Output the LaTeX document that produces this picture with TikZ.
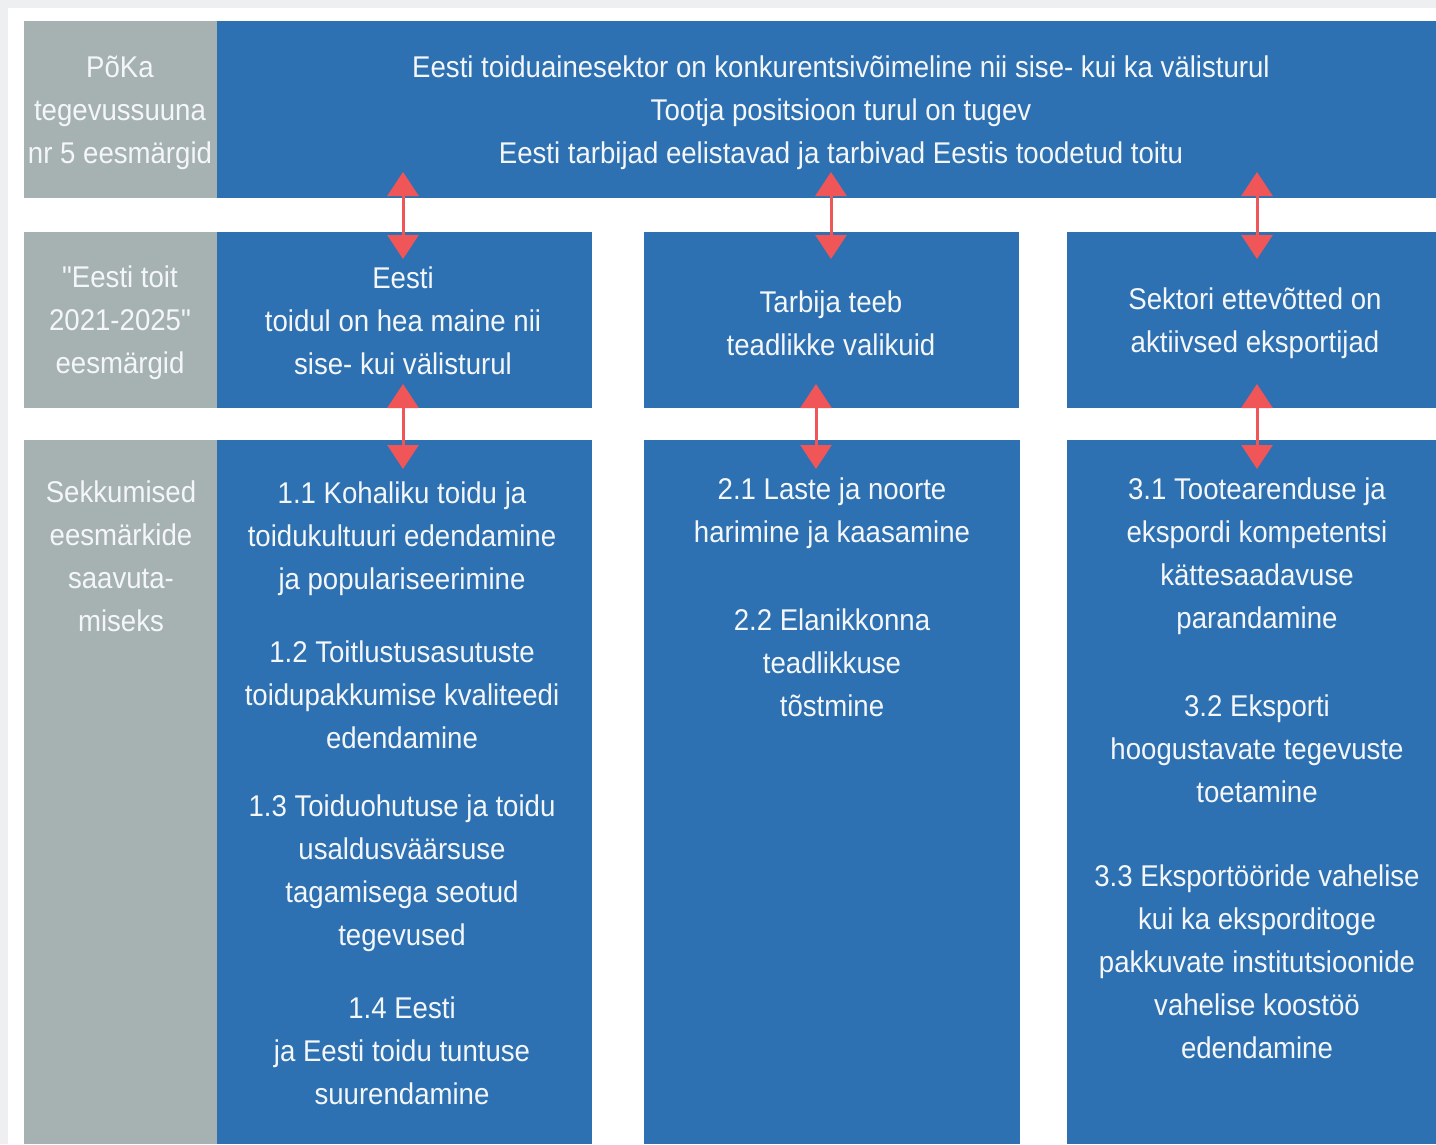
\documentclass[tikz,border=0pt]{standalone}
\usepackage{fontspec}
\setmainfont{Liberation Sans}[FakeStretch=0.92]
\newfontfamily\plainquote{Liberation Sans}[FakeStretch=0.92]
\usetikzlibrary{arrows.meta}
\definecolor{pageBg}{HTML}{EEEFF1}
\definecolor{boxBlue}{HTML}{2D71B3}
\definecolor{boxGray}{HTML}{A6B2B2}
\definecolor{arrRed}{HTML}{F05558}
\definecolor{txtCol}{HTML}{F4F6F8}
\tikzset{
  cell/.style={rectangle, inner sep=0pt, outer sep=0pt, anchor=north west, draw=none},
  bluecell/.style={cell, fill=boxBlue},
  graycell/.style={cell, fill=boxGray},
  label/.style={text=txtCol, align=center, inner sep=0pt, font=\fontsize{30}{43}\selectfont},
  dbl/.style={draw=arrRed, line width=3pt, {Triangle[width=31pt,length=24pt]}-{Triangle[width=31pt,length=24pt]}}
}
\begin{document}
\begin{tikzpicture}[x=1pt,y=-1pt]
\fill[pageBg] (0,0) rectangle (1436,1144);
\fill[white] (8,8) rectangle (1436,1144);
\useasboundingbox (0,0) rectangle (1436,1144);
% row 1
\node[graycell, minimum width=193pt, minimum height=177pt] (g1) at (24,21) {};
\node[bluecell, minimum width=1219pt, minimum height=177pt] (b1) at (217,21) {};
% row 2
\node[graycell, minimum width=193pt, minimum height=176pt] (g2) at (24,232) {};
\node[bluecell, minimum width=375pt, minimum height=176pt] (b21) at (217,232) {};
\node[bluecell, minimum width=375pt, minimum height=176pt] (b22) at (644,232) {};
\node[bluecell, minimum width=369pt, minimum height=176pt] (b23) at (1067,232) {};
% row 3
\node[graycell, minimum width=193pt, minimum height=704pt] (g3) at (24,440) {};
\node[bluecell, minimum width=375pt, minimum height=704pt] (b31) at (217,440) {};
\node[bluecell, minimum width=376pt, minimum height=704pt] (b32) at (644,440) {};
\node[bluecell, minimum width=369pt, minimum height=704pt] (b33) at (1067,440) {};

% texts row 1
\node[label] (tg1) at (120,112.5) {PõKa\\tegevussuuna\\nr 5 eesmärgid};
\node[label] (tb1) at (841,112.5) {Eesti toiduainesektor on konkurentsivõimeline nii sise- kui ka välisturul\\Tootja positsioon turul on tugev\\Eesti tarbijad eelistavad ja tarbivad Eestis toodetud toitu};
% texts row 2
\node[label] (tg2) at (120,323) {{\plainquote"}Eesti toit\\2021-2025{\plainquote"}\\eesmärgid};
\node[label] (tb21) at (403,320.5) {Eesti\\toidul on hea maine nii\\sise- kui välisturul};
\node[label] (tb22) at (831,323.5) {Tarbija teeb\\teadlikke valikuid};
\node[label] (tb23) at (1255,323.5) {Sektori ettevõtted on\\aktiivsed eksportijad};
% texts row 3
\node[label] (tg3) at (121,556.5) {Sekkumised\\eesmärkide\\saavuta-\\miseks};
\node[label] (t11) at (402,538.5) {1.1 Kohaliku toidu ja\\toidukultuuri edendamine\\ja populariseerimine};
\node[label] (t12) at (402,695) {1.2 Toitlustusasutuste\\toidupakkumise kvaliteedi\\edendamine};
\node[label] (t13) at (402,873) {1.3 Toiduohutuse ja toidu\\usaldusväärsuse\\tagamisega seotud\\tegevused};
\node[label] (t14) at (402,1051) {1.4 Eesti\\ja Eesti toidu tuntuse\\suurendamine};
\node[label] (t21) at (832,513.5) {2.1 Laste ja noorte\\harimine ja kaasamine};
\node[label] (t22) at (832,663) {2.2 Elanikkonna\\teadlikkuse\\tõstmine};
\node[label] (t31) at (1257,556.5) {3.1 Tootearenduse ja\\ekspordi kompetentsi\\kättesaadavuse\\parandamine};
\node[label] (t32) at (1257,749) {3.2 Eksporti\\hoogustavate tegevuste\\toetamine};
\node[label] (t33) at (1257,962) {3.3 Eksportööride vahelise\\kui ka eksporditoge\\pakkuvate institutsioonide\\vahelise koostöö\\edendamine};

% arrow end points
\coordinate (a1u) at (403,172); \coordinate (a1d) at (403,259);
\coordinate (a2u) at (831,172); \coordinate (a2d) at (831,259);
\coordinate (a3u) at (1257,172); \coordinate (a3d) at (1257,259);
\coordinate (c1u) at (403,384); \coordinate (c1d) at (403,469);
\coordinate (c2u) at (816,384); \coordinate (c2d) at (816,469);
\coordinate (c3u) at (1257,384); \coordinate (c3d) at (1257,469);
\draw[dbl] (a1u) -- (a1d);
\draw[dbl] (a2u) -- (a2d);
\draw[dbl] (a3u) -- (a3d);
\draw[dbl] (c1u) -- (c1d);
\draw[dbl] (c2u) -- (c2d);
\draw[dbl] (c3u) -- (c3d);
\end{tikzpicture}
\end{document}
